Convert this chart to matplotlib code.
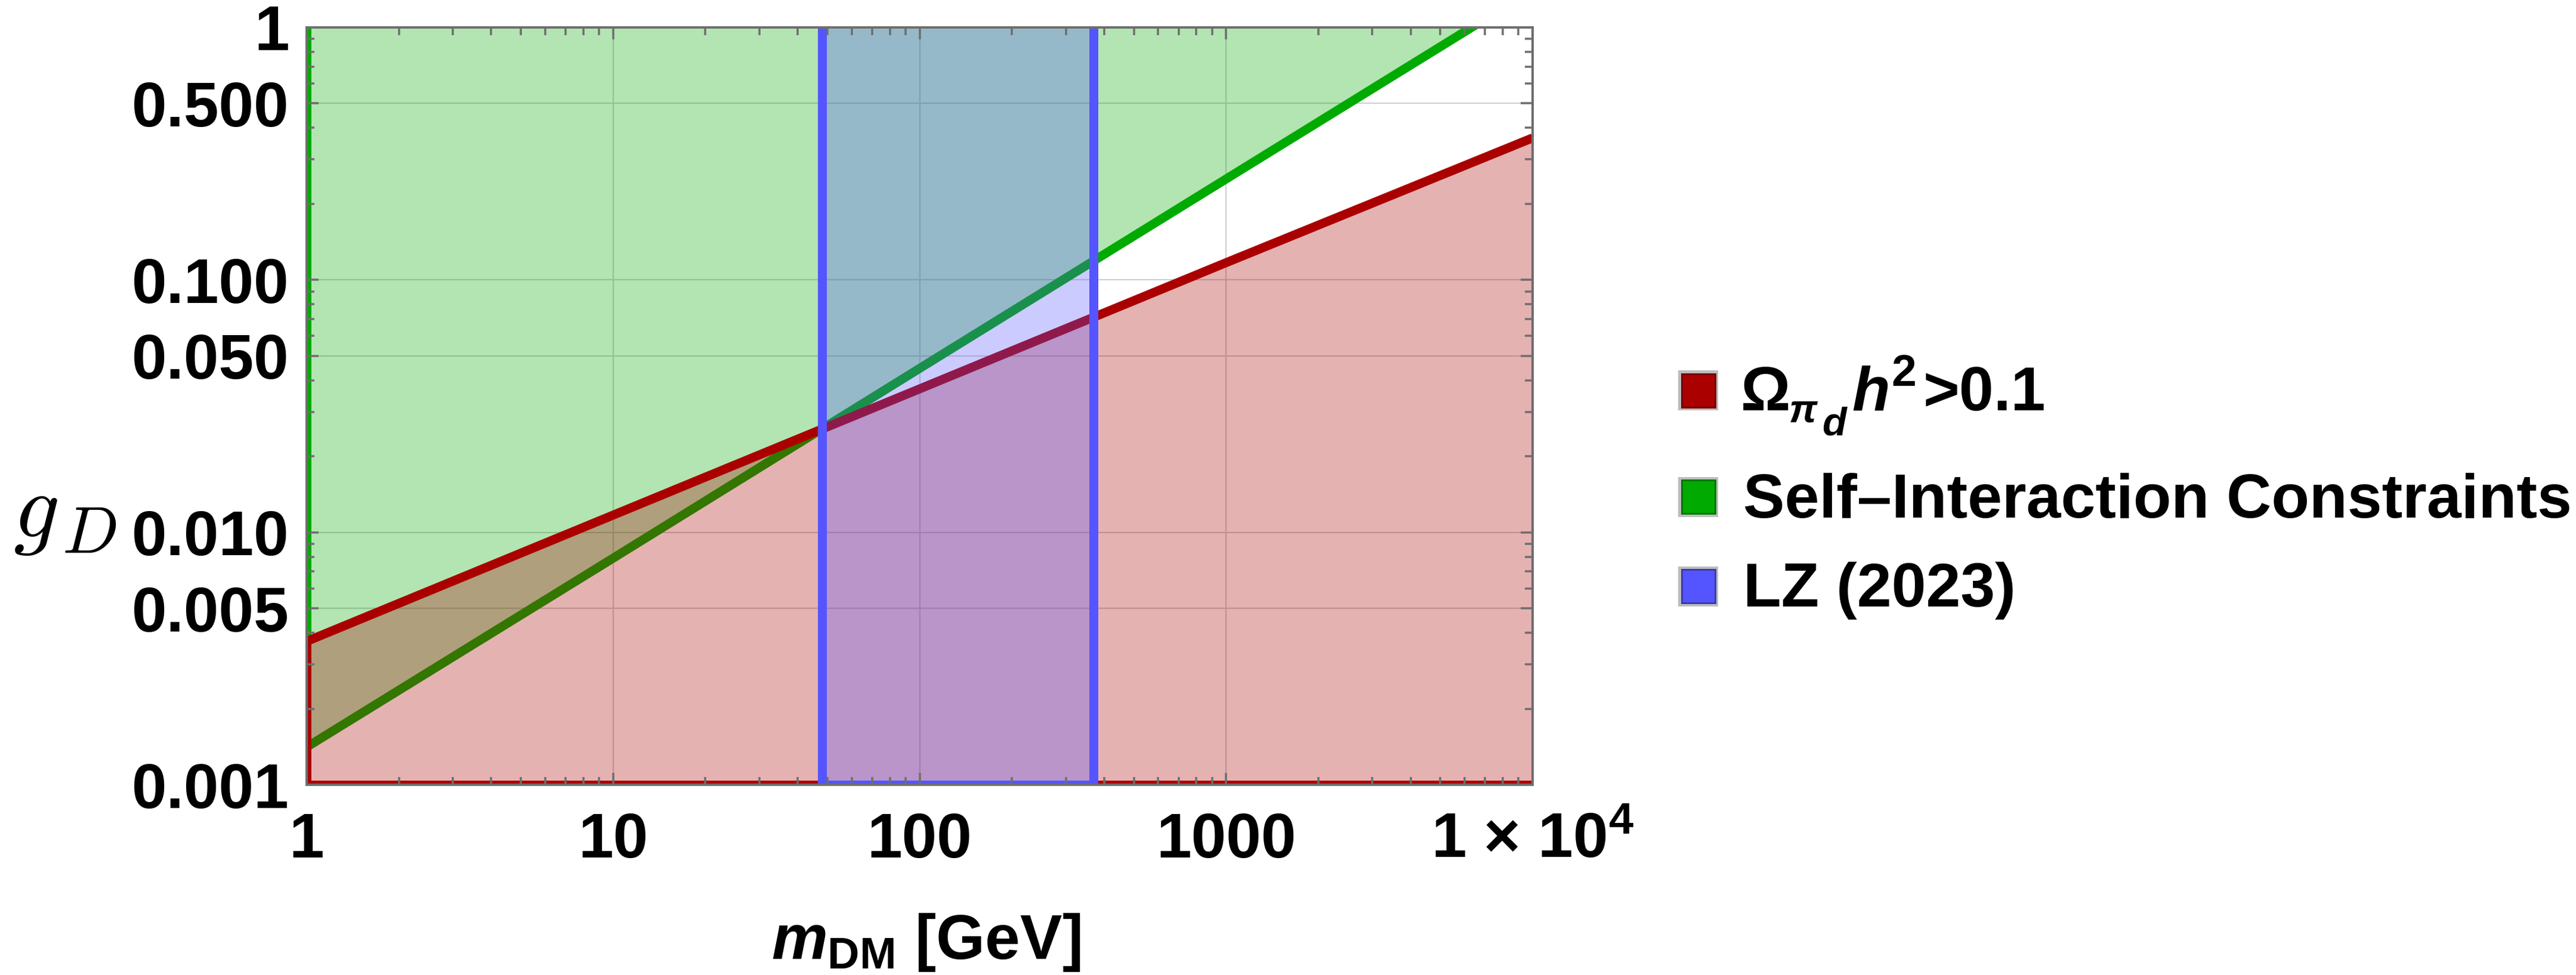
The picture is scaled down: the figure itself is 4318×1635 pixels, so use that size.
import matplotlib
matplotlib.use("Agg")
import matplotlib.pyplot as plt
from matplotlib.patches import Rectangle
from matplotlib.ticker import FixedLocator, NullFormatter

# ---------------- data ----------------
mass_nodes = [1, 10, 100, 1000, 10000]                 # m_DM [GeV]
relic_g = [0.0037, 0.0117, 0.037, 0.117, 0.365]        # Omega h^2 > 0.1 boundary
self_int_g = [0.00141, 0.0079, 0.0446, 0.251, 1.41]    # self-interaction boundary
lz_mass = [48, 370]                                    # LZ (2023) excluded mass window

x_ticks = [1, 10, 100, 1000, 10000]
x_tick_labels = ["1", "10", "100", "1000", "1 \u00d7 10$^{4}$"]
y_ticks = [0.001, 0.005, 0.01, 0.05, 0.1, 0.5, 1]
y_tick_labels = ["0.001", "0.005", "0.010", "0.050", "0.100", "0.500", "1"]
x_range = [1, 10000]
y_range = [0.001, 1]

legend_labels = ["relic", "Self\u2013Interaction Constraints", "LZ (2023)"]

# ---------------- style ----------------
plt.rcParams["font.family"] = ["Liberation Sans", "DejaVu Sans"]
plt.rcParams["font.weight"] = "bold"
plt.rcParams["mathtext.fontset"] = "custom"
plt.rcParams["mathtext.rm"] = "Liberation Sans:bold"
plt.rcParams["mathtext.bf"] = "Liberation Sans:bold"
plt.rcParams["mathtext.it"] = "Liberation Sans:bold:italic"

W, H, DPI = 4318, 1635, 200


def pt(p):
    return p * 72.0 / DPI


RED = (0.667, 0.0, 0.0)
GREEN = (0.0, 0.667, 0.0)
BLUE = (0.333, 0.333, 1.0)
FRAME = "#6e6e6e"
LW = pt(15)
FS = 38

fig = plt.figure(figsize=(W / DPI, H / DPI), dpi=DPI)
ax = fig.add_axes([514 / W, 1 - 1316 / H, (2569 - 514) / W, (1316 - 46) / H])
ax.set_xscale("log")
ax.set_yscale("log")
ax.set_xlim(*x_range)
ax.set_ylim(*y_range)

# grid lines (beneath translucent fills)
for xv in x_ticks[1:-1]:
    ax.axvline(xv, color="#cfcfcf", lw=pt(2.2), zorder=0.5)
for yv in y_ticks[1:-1]:
    ax.axhline(yv, color="#cfcfcf", lw=pt(2.2), zorder=0.5)

# self-interaction region (above green curve)
ax.fill_between(mass_nodes, self_int_g, y_range[1], color=GREEN, alpha=0.3,
                lw=0, zorder=1)
ax.plot(mass_nodes, self_int_g, color=GREEN, lw=LW, zorder=2,
        solid_capstyle="butt")
ax.plot([x_range[0], x_range[0]], [self_int_g[0], y_range[1]], color=GREEN,
        lw=LW, zorder=2, solid_capstyle="butt")

# relic-density region (below red curve)
ax.fill_between(mass_nodes, y_range[0], relic_g, color=RED, alpha=0.3,
                lw=0, zorder=3)
ax.plot(mass_nodes, relic_g, color=RED, lw=LW, zorder=4, solid_capstyle="butt")
ax.plot([x_range[0], x_range[0]], [y_range[0], relic_g[0]], color=RED,
        lw=LW, zorder=4, solid_capstyle="butt")
ax.plot(x_range, [y_range[0], y_range[0]], color=RED, lw=LW, zorder=4,
        solid_capstyle="butt")

# LZ window
ax.axvspan(lz_mass[0], lz_mass[1], color=BLUE, alpha=0.3, lw=0, zorder=5)
for xv in lz_mass:
    ax.axvline(xv, color=BLUE, lw=LW, zorder=6)
ax.plot(lz_mass, [y_range[0], y_range[0]], color=BLUE, lw=LW, zorder=6,
        solid_capstyle="butt")

# ---------------- axes / ticks ----------------
for s in ax.spines.values():
    s.set_color(FRAME)
    s.set_linewidth(pt(4))
    s.set_zorder(30)

ax.xaxis.set_major_locator(FixedLocator(x_ticks))
ax.yaxis.set_major_locator(FixedLocator(y_ticks))
ax.set_xticklabels(x_tick_labels)
ax.set_yticklabels(y_tick_labels)

x_minor = [k * 10 ** e for e in range(0, 4) for k in range(2, 10)]
y_minor = [k * 10.0 ** e for e in (-3, -2, -1) for k in (2, 3, 4, 6, 7, 8, 9)]
ax.xaxis.set_minor_locator(FixedLocator(x_minor))
ax.yaxis.set_minor_locator(FixedLocator(y_minor))
ax.xaxis.set_minor_formatter(NullFormatter())
ax.yaxis.set_minor_formatter(NullFormatter())

ax.tick_params(which="both", direction="in", top=True, right=True,
               color=FRAME, width=pt(3.5), labelsize=FS)
ax.tick_params(which="major", length=pt(20))
ax.tick_params(which="minor", length=pt(13))
ax.tick_params(axis="x", which="major", pad=pt(45))
ax.tick_params(axis="y", which="major", pad=pt(29))
ax.xaxis.set_zorder(20)
ax.yaxis.set_zorder(20)

# ---------------- axis labels ----------------
fig.text(1293 / W, 1 - 1608 / H, r"$m_{\mathrm{DM}}$ [GeV]", fontsize=FS,
         ha="left", va="baseline")
fig.text(22 / W, 1 - 900 / H, r"$g$", fontsize=55, math_fontfamily="cm",
         ha="left", va="baseline", fontweight="normal")
fig.text(104 / W, 1 - 927 / H, r"$D$", fontsize=40, math_fontfamily="cm",
         ha="left", va="baseline", fontweight="normal")

# ---------------- legend ----------------
legend_colors = [RED, GREEN, BLUE]
swatch_bottoms = [688, 867, 1017]
text_baselines = [688, 868, 1017]
SW = 67
for lab, col, sb, tb in zip(legend_labels, legend_colors, swatch_bottoms,
                            text_baselines):
    x0 = 2813
    fig.add_artist(Rectangle((x0 / W, 1 - sb / H), SW / W, SW / H,
                             transform=fig.transFigure, facecolor="#bdbdbd",
                             edgecolor="none"))
    inset = 4
    dark = tuple(c * 0.7 for c in col)
    fig.add_artist(Rectangle(((x0 + inset + 1.5) / W, 1 - (sb - inset - 1.5) / H),
                             (SW - 2 * inset - 3) / W, (SW - 2 * inset - 3) / H,
                             transform=fig.transFigure, facecolor=col,
                             edgecolor=dark, linewidth=pt(3)))
    if lab == "relic":
        # Omega_{pi_d} h^2 > 0.1 built piece by piece (sub/superscript sizes
        # as in the reference)
        fig.text(2918 / W, 1 - tb / H, "\u03a9", fontsize=37.5,
                 ha="left", va="baseline")
        fig.text(2999 / W, 1 - 707 / H, "\u03c0", fontsize=24,
                 fontstyle="italic", ha="left", va="baseline")
        fig.text(3054 / W, 1 - 729 / H, "d", fontsize=24,
                 fontstyle="italic", ha="left", va="baseline")
        fig.text(3104 / W, 1 - tb / H, "h", fontsize=37.5,
                 fontstyle="italic", ha="left", va="baseline")
        fig.text(3170 / W, 1 - 647 / H, "2", fontsize=27,
                 ha="left", va="baseline")
        fig.text(3224 / W, 1 - tb / H, ">0.1", fontsize=37.5,
                 ha="left", va="baseline")
    else:
        fig.text(2922 / W, 1 - tb / H, lab, fontsize=37.5, ha="left",
                 va="baseline")

fig.savefig("out.png", dpi=DPI)
